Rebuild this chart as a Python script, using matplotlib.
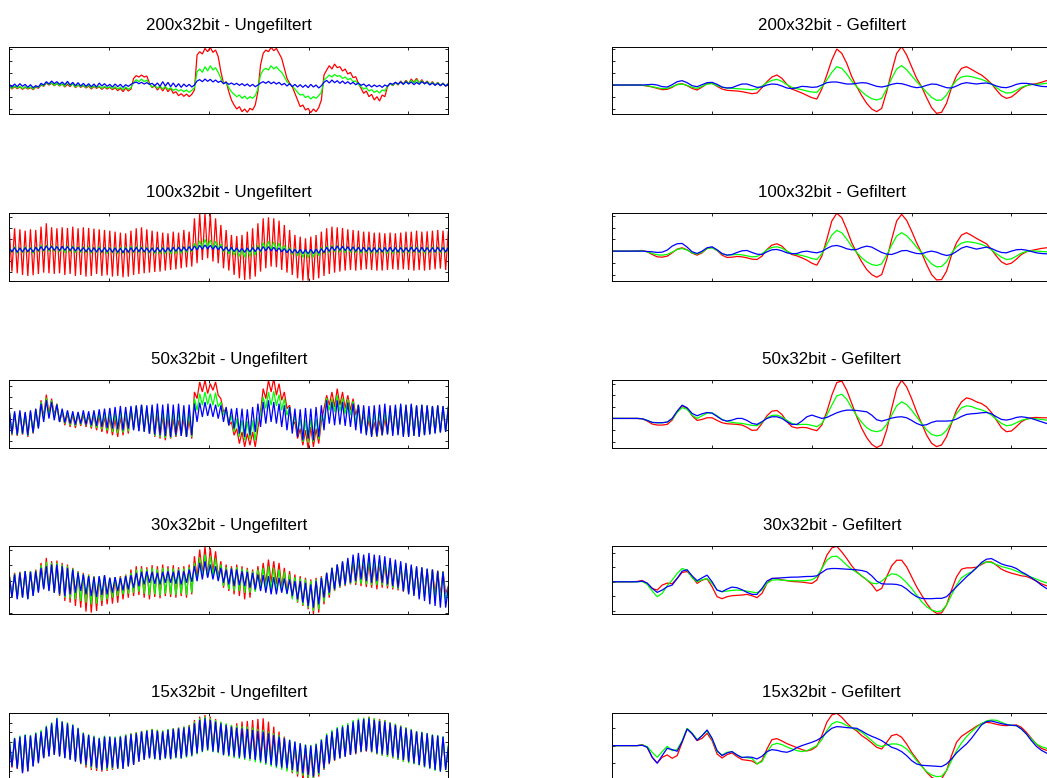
import numpy as np
import matplotlib
matplotlib.use('Agg')
import matplotlib.pyplot as plt

plt.rcParams['font.family'] = ['Liberation Sans', 'DejaVu Sans']

resolutions = ['200x32bit', '100x32bit', '50x32bit', '30x32bit', '15x32bit']
x_max = 2200
x_ticks = [500, 1000, 1500, 2000]

# ---------------- unfiltered (raw) signals ----------------
raw_red_200 = [-4,-12,-5,-11,-6,-13,-7,-12,-8,-14,
-6,-10,0,-4,6,0,5,-2,4,-3,
3,-6,2,-5,4,-8,0,-7,-2,-9,
-3,-12,-4,-10,-5,-13,-6,-12,-7,-14,
-8,-17,-10,-20,-9,-18,-12,20,28,24,
30,24,27,5,-8,-2,-15,-5,-18,-6,
-20,-10,-25,-20,-32,-26,-34,-27,-35,-28,
-15,90,100,93,110,100,113,98,105,85,
40,5,10,-20,-45,-60,-72,-65,-80,-72,
-82,-70,-75,-60,-20,60,95,105,100,113,
103,110,95,80,50,20,5,-5,-25,-45,
-65,-60,-75,-70,-83,-72,-80,-68,-45,30,
45,58,48,63,52,55,42,48,33,38,
22,25,5,-10,-25,-18,-35,-28,-45,-35,
-48,-30,-35,-5,5,-2,8,0,12,3,
14,4,18,8,20,6,16,4,12,2,
10,0,8,-2,6,-4,5]
raw_green_200 = [-2,-10,-3,-9,-4,-11,-5,-10,-6,-12,
-4,-8,2,-3,8,1,7,-1,5,-2,
4,-4,9,-3,4,-6,1,-5,-1,-7,
0,-9,-2,-8,-3,-10,-4,-9,-5,-11,
-5,-12,-7,-14,-6,-13,-8,8,16,10,
18,10,15,2,-6,0,-10,-3,-12,-4,
-14,-8,-16,-12,-18,-14,-20,-15,-22,-16,
-8,40,48,38,55,42,58,45,52,38,
20,5,8,-8,-20,-28,-35,-30,-40,-33,
-42,-35,-40,-32,-12,30,45,50,45,58,
48,55,45,38,25,10,2,-3,-12,-22,
-30,-28,-38,-33,-42,-35,-40,-32,-22,15,
22,30,24,32,26,28,20,24,16,20,
10,12,2,-5,-12,-8,-18,-14,-22,-17,
-24,-15,-18,-3,4,-1,8,1,10,3,
12,4,14,6,16,5,13,3,10,2,
8,0,7,-1,5,-3,4]
raw_blue_200 = [2,-6,3,-5,4,-4,2,-7,1,-8,
-2,-6,5,0,10,3,12,4,10,2,
9,1,11,0,8,-2,7,-3,5,-4,
4,-5,3,-6,6,-3,4,-4,2,-6,
3,-5,2,-7,1,-4,2,6,9,4,
8,3,7,2,5,-2,6,-4,10,-3,
8,-5,6,-6,4,-7,3,-5,2,-6,
0,12,16,10,18,11,17,9,15,8,
12,4,8,2,6,1,5,-1,4,-2,
3,-4,2,-5,0,6,10,5,11,4,
9,3,8,0,5,-3,4,-5,2,-6,
1,-7,0,-8,2,-6,0,-9,-2,8,
14,6,15,7,13,5,12,4,10,3,
8,1,6,-1,3,-4,1,-6,0,-5,
-1,-7,0,-4,5,2,8,3,9,2,
10,3,9,1,8,2,10,4,8,0,
6,-1,5,-2,4,-3,3]

raw_red_100 = [60,-65,65,-70,62,-75,58,-78,62,-76,
60,-72,70,-68,80,-70,68,-72,65,-70,
68,-75,66,-72,70,-78,65,-75,68,-80,
66,-78,64,-72,62,-78,60,-76,58,-80,
55,-78,52,-82,50,-80,58,-75,65,-72,
68,-70,62,-68,58,-66,55,-65,52,-62,
50,-60,55,-58,52,-55,60,-52,55,-50,
95,-40,110,-30,110,-25,108,-35,95,-40,
75,-55,60,-62,45,-75,42,-85,45,-90,
55,-88,65,-80,80,-65,95,-55,98,-50,
95,-52,88,-60,75,-68,60,-75,45,-85,
40,-92,35,-92,40,-90,45,-85,55,-78,
65,-72,70,-68,68,-65,66,-62,62,-60,
60,-62,58,-60,55,-58,55,-60,52,-62,
52,-62,50,-60,52,-58,50,-60,52,-58,
55,-60,55,-62,58,-60,55,-62,56,-60,
58,-58,60,-56,58,-60,55]
raw_green_100 = [8,-8,10,-10,8,-9,10,-8,9,-10,
10,-6,14,-5,15,-4,14,-5,12,-6,
12,-8,13,-7,12,-9,11,-8,10,-9,
10,-10,9,-9,10,-10,8,-11,9,-10,
8,-12,9,-11,10,-10,11,-9,12,-8,
10,-9,9,-10,8,-11,8,-12,9,-11,
8,-12,9,-11,10,-10,11,-8,12,-6,
20,2,28,5,32,8,30,6,26,2,
18,-6,12,-12,8,-16,6,-20,5,-22,
6,-20,10,-15,15,-8,22,-2,26,2,
24,0,20,-4,14,-8,8,-14,4,-18,
2,-22,0,-24,2,-22,4,-18,8,-12,
12,-8,14,-6,13,-7,12,-8,11,-8,
10,-9,10,-10,9,-10,9,-11,8,-10,
9,-10,8,-11,9,-10,8,-10,9,-9,
9,-9,10,-8,10,-9,9,-10,9,-9,
10,-8,10,-9,9,-9,10]
raw_blue_100 = [6,-6,7,-7,6,-6,7,-5,6,-6,
8,-3,10,-2,12,0,11,-1,10,-2,
11,-1,10,-2,9,-3,8,-4,7,-5,
6,-6,7,-6,6,-7,7,-6,6,-7,
6,-7,5,-8,6,-7,7,-6,8,-5,
7,-6,6,-7,6,-7,7,-6,6,-6,
7,-5,8,-4,8,-4,9,-3,10,-2,
12,0,14,2,15,3,14,2,13,0,
11,-2,9,-4,8,-5,6,-6,5,-7,
6,-6,7,-5,8,-4,10,-3,10,-3,
8,-4,6,-6,4,-8,3,-9,2,-10,
2,-11,1,-12,2,-11,3,-10,4,-8,
8,-4,10,-2,12,-1,11,-2,10,-3,
9,-4,8,-5,8,-5,7,-6,7,-6,
6,-6,7,-5,8,-5,7,-6,7,-6,
7,-5,8,-5,7,-6,8,-5,7,-6,
7,-6,8,-5,7,-6,8]

raw_red_50 = [20,-50,15,-52,18,-48,15,-55,18,-45,
25,-25,55,5,72,15,60,10,45,-10,
20,-20,15,-25,12,-28,15,-22,12,-25,
10,-30,12,-35,8,-40,5,-45,3,-50,
0,-55,5,-50,10,-45,30,-30,35,-35,
40,-35,30,-45,25,-55,15,-60,10,-65,
5,-60,0,-55,-5,-50,0,-55,-5,-60,
80,60,110,80,115,75,105,85,110,70,
60,20,30,-20,-10,-50,-30,-75,-40,-85,
-45,-80,-40,-85,-30,20,90,60,115,80,
120,70,105,55,80,30,40,-20,-10,-60,
-30,-80,-35,-90,-25,-85,-30,-75,-10,30,
70,40,80,35,90,40,80,30,70,25,
60,10,40,-20,10,-40,-5,-50,-10,-55,
-5,-50,0,-45,20,-40,30,-45,35,-50,
38,-52,40,-50,38,-52,40,-48,38,-45,
36,-42,38,-40,36,-38,32]
raw_green_50 = [22,-47,18,-50,20,-46,17,-52,20,-43,
28,-28,50,-3,62,8,55,2,43,-10,
25,-15,20,-20,18,-22,18,-18,18,-20,
16,-25,18,-28,18,-32,18,-36,18,-40,
18,-44,22,-42,22,-38,34,-32,38,-36,
41,-38,35,-45,33,-52,30,-55,26,-58,
25,-58,21,-52,20,-50,20,-55,18,-55,
60,25,75,40,80,42,75,40,78,35,
50,10,30,-20,10,-40,0,-55,-5,-65,
-8,-62,-5,-65,0,10,65,30,80,40,
82,38,72,25,60,10,35,-25,10,-50,
0,-70,-5,-72,0,-70,0,-62,10,-10,
62,25,60,20,70,22,62,15,58,10,
52,-15,41,-32,25,-45,16,-52,15,-53,
18,-50,22,-46,30,-46,36,-47,40,-52,
40,-53,42,-51,39,-53,41,-49,39,-46,
37,-43,39,-41,37,-39,34]
raw_blue_50 = [25,-45,22,-48,25,-45,20,-50,25,-42,
30,-30,45,-10,55,0,50,-5,42,-10,
30,-12,25,-15,22,-18,20,-15,25,-18,
22,-20,25,-22,28,-25,30,-28,32,-30,
35,-32,38,-35,35,-30,38,-35,40,-38,
42,-40,40,-45,42,-48,45,-50,42,-52,
45,-55,42,-50,45,-52,40,-55,42,-50,
45,-10,48,5,50,8,45,5,42,0,
40,-10,35,-20,30,-30,32,-45,30,-55,
28,-50,35,-40,45,-25,50,-15,55,-10,
50,-15,45,-25,40,-35,35,-45,30,-55,
28,-65,32,-60,30,-65,35,-55,40,-35,
55,-15,50,-20,55,-18,50,-22,48,-25,
45,-35,42,-45,40,-50,38,-55,40,-52,
42,-50,45,-48,40,-52,42,-50,45,-55,
42,-55,45,-52,40,-55,42,-50,40,-48,
38,-45,40,-42,38,-40,35]

raw_red_30 = [20,-45,25,-50,28,-48,30,-52,30,-42,
35,-30,55,-20,70,-25,60,-35,62,-45,
55,-60,50,-65,40,-75,30,-80,25,-92,
20,-95,15,-90,12,-75,15,-70,10,-68,
12,-65,15,-55,20,-50,35,-45,45,-42,
45,-50,42,-55,48,-48,45,-52,50,-45,
45,-48,48,-50,42,-45,45,-50,50,-40,
75,10,95,20,105,15,100,25,90,10,
60,-20,50,-30,45,-40,50,-45,45,-55,
40,-50,35,-30,45,-15,55,-10,65,-5,
60,-10,55,-20,40,-35,30,-50,20,-65,
15,-75,10,-85,5,-100,10,-95,15,-70,
25,-50,40,-30,50,-20,55,-15,60,-10,
62,-12,60,-15,58,-18,55,-20,52,-25,
55,-20,52,-22,50,-25,48,-28,45,-32,
45,-35,42,-38,40,-42,38,-40,35,-42,
35,-40,32,-42,30,-38,-15]
raw_green_30 = [18,-48,22,-52,26,-50,30,-54,30,-44,
32,-32,48,-22,58,-28,55,-35,55,-42,
50,-50,45,-52,38,-55,28,-60,22,-65,
18,-70,14,-68,14,-60,17,-55,10,-50,
12,-45,12,-40,18,-38,25,-35,35,-32,
38,-38,36,-42,40,-40,36,-44,40,-38,
38,-40,38,-42,36,-38,38,-42,42,-35,
55,0,72,10,80,12,75,15,68,5,
50,-15,42,-25,40,-30,42,-30,38,-35,
35,-35,30,-32,35,-25,40,-25,45,-28,
40,-30,35,-32,28,-40,20,-55,12,-62,
8,-72,5,-80,0,-90,5,-85,12,-62,
25,-42,40,-28,50,-18,58,-12,65,-8,
72,-6,72,-8,70,-10,70,-12,66,-12,
66,-12,62,-15,60,-20,56,-24,52,-30,
50,-38,46,-42,42,-48,40,-50,36,-55,
35,-58,31,-60,29,-58,-18]
raw_blue_30 = [15,-50,20,-55,25,-50,30,-55,28,-45,
30,-35,40,-25,45,-30,50,-35,50,-40,
45,-45,40,-40,35,-35,25,-30,20,-40,
15,-45,12,-48,15,-42,18,-40,10,-35,
12,-30,10,-28,15,-25,18,-20,25,-15,
28,-10,30,-5,28,-8,25,-10,28,-5,
30,-5,28,-8,32,-10,30,-5,35,-2,
45,0,55,5,60,10,50,5,45,0,
40,-5,35,-10,38,-15,35,-12,30,-15,
28,-20,25,-25,20,-30,18,-35,15,-40,
12,-40,10,-35,8,-38,5,-45,0,-55,
0,-65,-5,-75,-10,-80,0,-70,10,-50,
25,-35,40,-25,50,-15,60,-10,70,-5,
80,0,85,5,80,0,85,-5,80,0,
78,-5,75,-10,70,-15,65,-20,60,-30,
55,-40,50,-45,45,-55,42,-60,38,-70,
35,-75,30,-80,28,-80,-20]

raw_red_15 = [33,-48,38,-52,42,-62,46,-58,45,-43,
52,-30,58,-18,70,-12,80,-8,92,-12,
85,-18,80,-22,75,-28,68,-38,55,-48,
48,-55,42,-58,38,-60,42,-58,40,-55,
40,-52,45,-50,50,-42,55,-38,58,-30,
62,-22,65,-18,68,-20,65,-22,62,-18,
66,-20,70,-16,72,-18,75,-12,80,-10,
95,-5,105,5,110,10,105,5,98,0,
88,-8,82,-10,80,-12,85,-15,90,-18,
92,-20,95,-22,98,-25,100,-28,90,-32,
75,-40,60,-48,45,-55,30,-65,20,-75,
15,-85,10,-90,8,-88,15,-75,30,-55,
48,-38,58,-28,68,-20,72,-15,78,-10,
85,-8,92,-2,100,0,105,-2,100,-8,
98,-12,95,-15,88,-20,82,-25,78,-30,
72,-32,66,-36,60,-40,56,-44,52,-48,
48,-52,45,-55,42,-50,10]
raw_green_15 = [38,-43,42,-48,48,-60,52,-56,50,-42,
58,-32,65,-18,78,-12,88,-8,102,-12,
92,-18,88,-22,82,-30,72,-36,58,-42,
52,-50,48,-52,42,-55,48,-55,45,-52,
45,-50,48,-50,52,-42,55,-38,58,-28,
62,-24,65,-20,68,-24,66,-26,64,-22,
68,-24,70,-20,72,-22,75,-18,78,-15,
90,-8,100,-2,105,2,100,-2,95,-5,
90,-12,85,-15,80,-20,78,-22,76,-25,
75,-28,72,-32,68,-35,65,-40,60,-45,
55,-50,50,-55,42,-60,36,-62,30,-68,
25,-72,22,-78,20,-80,25,-70,38,-52,
55,-36,65,-26,74,-20,80,-14,86,-8,
95,-4,100,0,102,2,104,-2,100,-8,
96,-12,94,-16,88,-20,84,-25,78,-30,
73,-35,68,-38,62,-42,60,-48,56,-52,
52,-58,50,-60,46,-56,20]
raw_blue_15 = [35,-45,40,-50,45,-65,50,-60,48,-45,
55,-35,60,-20,75,-15,85,-10,100,-15,
90,-20,85,-25,80,-30,70,-35,55,-40,
50,-45,45,-50,40,-55,45,-50,45,-48,
42,-50,45,-52,48,-45,52,-40,55,-30,
60,-25,62,-20,65,-22,62,-25,60,-20,
65,-22,68,-18,70,-20,72,-15,75,-12,
85,-5,95,0,100,5,95,0,90,-2,
85,-10,80,-12,75,-15,72,-18,70,-20,
68,-22,65,-25,62,-30,60,-35,55,-40,
50,-45,45,-48,40,-50,35,-55,30,-60,
25,-65,20,-70,18,-75,22,-65,35,-50,
50,-35,60,-25,70,-20,75,-15,80,-10,
90,-5,95,0,98,2,100,0,95,-5,
92,-8,90,-10,85,-15,80,-20,75,-25,
70,-30,65,-35,60,-40,58,-45,55,-50,
50,-55,48,-60,45,-55,15]

# ---------------- filtered signals ----------------
filt_red_200 = [0,0,0,0,0,0,-1,-3,-6,-10,
-14,-13,-7,2,4,-2,-10,-15,-6,4,
5,-4,-12,-16,-17,-18,-20,-23,-26,-24,
-8,10,24,30,20,2,-12,-18,-24,-31,
-38,-42,-12,30,75,108,95,65,25,-5,
-32,-55,-72,-80,-70,-20,40,95,115,90,
55,20,-5,-38,-68,-85,-82,-55,-8,28,
50,55,47,38,30,18,4,-15,-32,-40,
-36,-24,-10,-2,2,4,8,13,16]
filt_green_200 = [0,0,0,0,0,0,-1,-2,-5,-8,
-11,-10,-5,1,3,-1,-7,-10,-4,3,
4,-2,-7,-9,-10,-11,-12,-13,-14,-12,
-3,7,14,17,11,1,-7,-11,-14,-18,
-21,-22,-6,15,38,55,50,33,12,-5,
-20,-32,-41,-45,-40,-12,20,48,58,46,
28,10,-5,-22,-37,-46,-45,-30,-5,14,
24,27,25,21,17,11,3,-8,-18,-24,
-23,-16,-7,-2,1,2,3,5,6]
filt_blue_200 = [0,0,0,0,0,0,0,1,2,0,
-5,-6,1,10,13,7,-2,-5,1,7,
8,2,-6,-9,-8,-2,3,3,-2,-7,
-6,0,3,2,-3,-9,-11,-8,-4,-5,
-7,-6,0,7,9,9,6,3,3,5,
7,6,1,-4,-6,-3,2,5,4,0,
-5,-8,-6,-1,3,2,-3,-8,-9,-3,
4,7,5,3,5,6,3,-3,-7,-8,
-4,2,5,5,3,-1,-4,-5,-4]

filt_red_100 = [0,0,0,0,0,1,2,-2,-10,-17,
-18,-15,-5,6,10,4,-6,-12,-5,8,
11,2,-12,-19,-18,-16,-17,-20,-24,-25,
-15,5,18,22,15,0,-10,-14,-20,-27,
-36,-42,-15,35,90,113,100,65,25,-5,
-32,-55,-70,-78,-70,-25,35,90,110,92,
60,25,-5,-40,-70,-86,-85,-60,-12,25,
48,55,47,38,30,22,5,-15,-32,-40,
-36,-24,-10,-2,2,5,8,10,12]
filt_green_100 = [0,0,0,0,0,0,1,-2,-7,-11,
-12,-10,-3,5,8,3,-5,-9,-3,8,
10,2,-8,-12,-11,-10,-11,-14,-17,-16,
-8,4,11,13,9,0,-7,-10,-13,-17,
-22,-25,-8,20,48,62,55,36,14,-4,
-20,-32,-40,-43,-38,-12,18,45,55,46,
30,12,-4,-22,-38,-47,-46,-32,-6,13,
24,28,27,24,20,14,4,-8,-18,-25,
-23,-15,-6,-1,1,0,-1,-2,-3]
filt_blue_100 = [0,0,0,0,0,0,0,-1,-2,-4,
-3,3,15,22,23,12,-2,-7,0,10,
13,4,-7,-12,-10,-4,1,2,-4,-9,
-10,-2,4,5,1,-5,-8,-7,-2,0,
-3,-5,-1,8,15,17,13,7,4,5,
11,15,12,4,-4,-9,-10,-5,1,2,
-3,-7,-8,-3,0,-3,-9,-13,-10,-1,
9,14,10,6,9,12,8,1,-4,-5,
0,4,5,3,-1,-5,-7,-8,-8]

filt_red_50 = [0,0,0,0,0,0,-1,-8,-17,-20,
-20,-18,-5,20,38,30,8,-6,-3,2,
2,-6,-13,-16,-17,-18,-20,-27,-36,-35,
-15,8,22,24,12,-10,-25,-29,-27,-28,
-33,-37,-20,20,70,108,113,85,45,5,
-30,-58,-78,-88,-80,-35,30,90,115,95,
60,20,-15,-50,-75,-85,-80,-55,-15,25,
50,62,58,50,45,35,18,-5,-28,-40,
-38,-25,-10,-2,2,3,2,2,1]
filt_green_50 = [0,0,0,0,0,0,-1,-6,-12,-13,
-13,-11,-2,18,33,27,10,0,8,16,
17,8,-3,-9,-12,-14,-15,-18,-21,-22,
-12,2,9,10,4,-6,-15,-19,-18,-18,
-21,-25,-15,10,40,68,73,58,32,8,
-12,-28,-37,-40,-36,-18,10,38,50,42,
25,5,-15,-35,-48,-53,-50,-36,-12,15,
32,38,36,30,26,20,10,-3,-15,-22,
-20,-13,-6,-2,0,-1,-3,-5,-6]
filt_blue_50 = [0,0,0,0,0,0,-1,-6,-12,-13,
-13,-11,0,22,40,32,15,8,14,18,
16,6,-4,-8,-5,0,0,-6,-15,-18,
-10,0,5,5,0,-10,-18,-18,-8,5,
10,5,0,3,10,17,22,25,25,24,
22,20,10,-4,-8,-4,1,4,5,2,
-6,-15,-21,-19,-12,-8,-8,-8,-7,-2,
6,12,14,15,17,18,14,5,-3,-5,
-2,3,5,3,0,-5,-10,-15,-18]

filt_red_30 = [0,0,0,0,0,1,4,-5,-20,-25,
-10,-4,-6,10,28,31,15,-5,5,9,
-15,-45,-51,-45,-42,-41,-40,-38,-42,-48,
-35,-5,10,10,6,3,1,0,-1,-3,
-5,5,40,80,102,107,90,70,48,30,
17,6,-8,-28,-20,15,48,65,65,45,
15,-15,-40,-65,-85,-95,-94,-70,-25,15,
38,42,42,44,52,60,60,50,38,31,
26,22,18,16,10,2,-6,-12,-16]
filt_green_30 = [0,0,0,0,0,0,1,-8,-28,-45,
-35,-12,5,25,40,35,12,0,6,10,
-5,-25,-30,-28,-26,-25,-26,-28,-31,-33,
-25,-5,5,6,5,4,3,3,3,4,
6,15,40,65,76,77,65,50,38,28,
18,6,-4,-6,2,15,24,22,12,-3,
-20,-40,-60,-75,-85,-90,-88,-70,-40,-10,
12,22,30,42,55,60,58,52,46,42,
38,32,26,20,14,8,2,-3,-6]
filt_blue_30 = [0,0,0,0,0,0,2,-4,-20,-32,
-25,-15,-10,10,32,36,18,3,12,20,
0,-25,-30,-22,-16,-18,-24,-32,-38,-38,
-20,2,10,11,12,13,14,14,15,16,
16,18,28,38,40,40,39,38,37,36,
34,30,18,2,-6,-7,-7,-8,-12,-22,
-35,-45,-50,-51,-51,-50,-50,-45,-30,-15,
0,15,28,42,58,68,70,62,54,49,
46,40,30,22,12,2,-10,-20,-28]

filt_red_15 = [0,0,0,0,0,0,3,-5,-35,-52,
-35,-28,-38,-30,10,50,35,15,22,37,
15,-25,-37,-27,-22,-33,-42,-44,-46,-55,
-45,-10,18,21,14,6,0,-6,-12,-16,
-12,-2,30,70,92,97,85,68,54,44,
30,20,8,-5,-10,10,30,34,25,5,
-20,-40,-60,-80,-95,-103,-100,-75,-30,10,
28,38,48,58,66,70,68,64,61,60,
61,62,55,40,22,5,-8,-14,-18]
filt_green_15 = [0,0,0,0,0,0,2,-3,-20,-35,
-18,-2,-15,-12,15,52,38,18,30,44,
20,-18,-28,-20,-18,-28,-35,-36,-38,-55,
-48,-20,2,7,3,-4,-10,-15,-18,-15,
-8,0,18,45,65,72,68,60,54,48,
40,28,15,2,-3,2,5,5,0,-10,
-25,-45,-62,-78,-88,-93,-92,-75,-45,-15,
8,27,42,55,66,74,77,76,70,64,
61,60,50,35,20,5,-3,-8,-12]
filt_blue_15 = [0,0,0,0,0,0,1,-5,-35,-53,
-30,-8,-12,-17,12,50,36,16,30,47,
22,-15,-30,-22,-18,-28,-36,-34,-35,-40,
-32,-18,-12,-14,-18,-20,-15,-6,0,5,
10,16,25,40,52,57,56,54,53,52,
44,35,28,22,15,5,-5,-10,-18,-30,
-45,-55,-59,-60,-61,-62,-63,-55,-40,-22,
-8,5,22,42,62,72,74,70,66,63,
61,60,50,35,15,-2,-14,-22,-28]

raw_sets = [
    (raw_red_200, raw_green_200, raw_blue_200),
    (raw_red_100, raw_green_100, raw_blue_100),
    (raw_red_50, raw_green_50, raw_blue_50),
    (raw_red_30, raw_green_30, raw_blue_30),
    (raw_red_15, raw_green_15, raw_blue_15),
]
filt_sets = [
    (filt_red_200, filt_green_200, filt_blue_200),
    (filt_red_100, filt_green_100, filt_blue_100),
    (filt_red_50, filt_green_50, filt_blue_50),
    (filt_red_30, filt_green_30, filt_blue_30),
    (filt_red_15, filt_green_15, filt_blue_15),
]

# ---------------- layout / style ----------------
ylims = [
    [(-87, 115), (-87, 115)],
    [(-92, 110), (-88, 113)],
    [(-87, 115), (-88, 115)],
    [(-98, 105), (-96, 107)],
    [(-87, 115), (-105, 97)],
]
ysteps = [[36, 36], [33.4, 35], [33, 35], [47.5, 44], [29, 52]]
colors = ['#ff0000', '#00ff00', '#0000ff']

W, H = 1047, 778
fig = plt.figure(figsize=(W / 100, H / 100), dpi=100)
row_tops = [46.7, 213.3, 380.3, 546.3, 713.3]
ax_h = 67.3
col_lefts = [9.3, 612.3]
ax_w = 439

for r in range(5):
    for c in range(2):
        ax = fig.add_axes([col_lefts[c] / W, 1 - (row_tops[r] + ax_h) / H,
                           ax_w / W, ax_h / H])
        series = raw_sets[r] if c == 0 else filt_sets[r]
        for vals, col in zip(series, colors):
            xs = np.linspace(0, x_max, len(vals))
            ax.plot(xs, vals, color=col, lw=0.9, solid_joinstyle='miter')
        lo, hi = ylims[r][c]
        ax.set_xlim(0, x_max)
        ax.set_ylim(lo, hi)
        st = ysteps[r][c]
        ax.set_xticks(x_ticks)
        ax.set_yticks(np.arange(np.ceil(lo / st) * st, hi, st))
        ax.tick_params(direction='in', top=True, right=True, length=2.2,
                       width=0.6, labelleft=False, labelbottom=False)
        for sp in ax.spines.values():
            sp.set_linewidth(0.7)
        kind = 'Ungefiltert' if c == 0 else 'Gefiltert'
        ax.set_title(f'{resolutions[r]} - {kind}', fontsize=12.2, pad=12)

fig.savefig('out.png', dpi=100)
